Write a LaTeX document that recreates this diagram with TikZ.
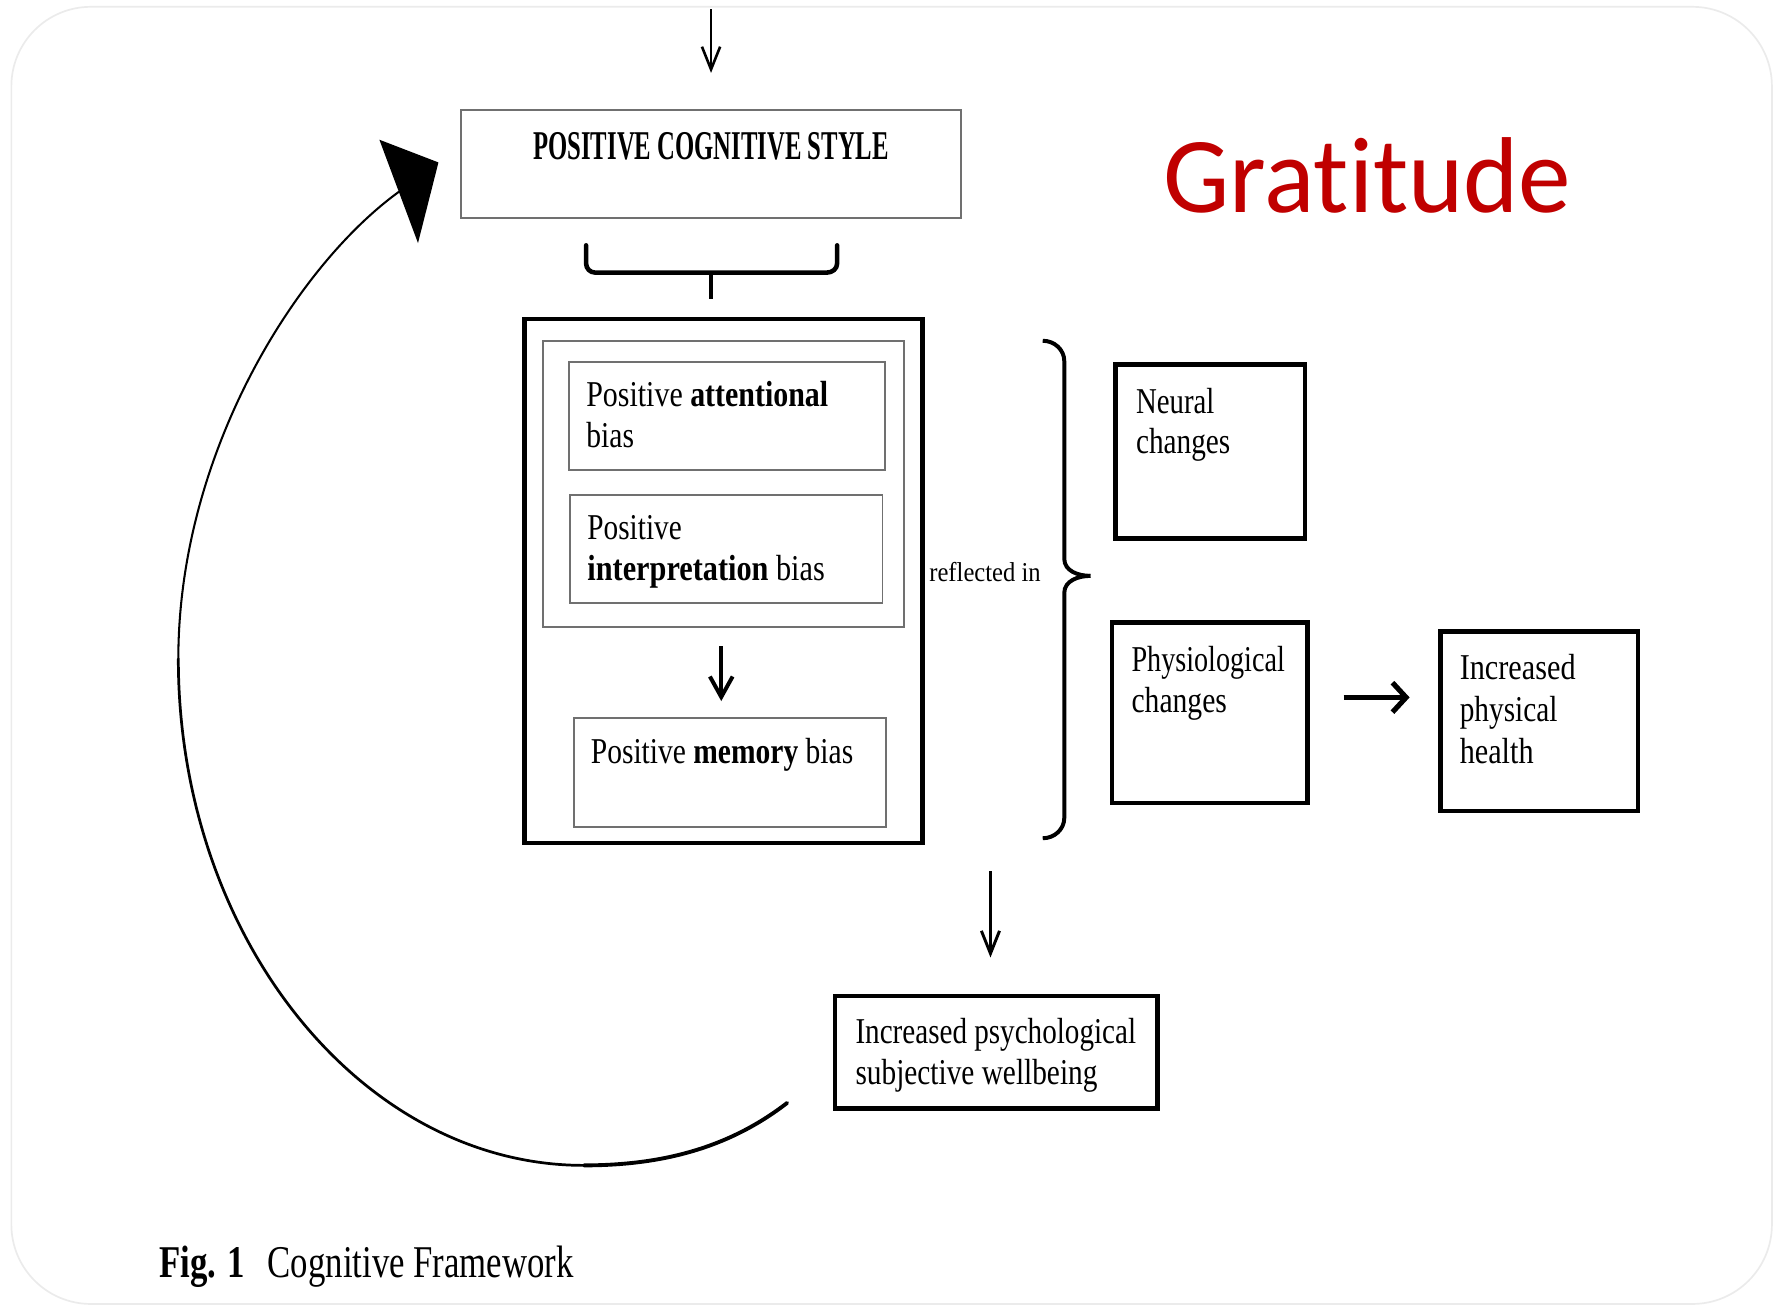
\documentclass[tikz,border=0pt]{standalone}
\usepackage{fontspec}
\setmainfont{Liberation Serif}
\newfontfamily\gratfont[RawFeature={-liga;-dlig;-clig;-calt}]{Carlito}
\usetikzlibrary{arrows.meta,fit}
\definecolor{gratred}{HTML}{C00000}
\definecolor{thingray}{HTML}{707070}
\newcommand\sqz[2]{\resizebox{#1pt}{\height}{#2}}
\begin{document}
\begin{tikzpicture}[x=1pt,y=-1pt,
  thinbox/.style={draw=thingray, line width=1.6pt, inner sep=0pt},
  thickbox/.style={draw=black, line width=4pt, inner sep=0pt},
  txt/.style={anchor=base west, inner sep=0pt, font=\fontsize{32}{38}\selectfont},
  smalltxt/.style={anchor=base west, inner sep=0pt, font=\fontsize{24}{28}\selectfont},
]
\useasboundingbox (0,0) rectangle (1568,1154);
% faint frame
\draw[black!8, line width=1.5pt, rounded corners=70pt] (10,6) rectangle (1560,1148);

% boxes
\node[thinbox, fit={(406,97) (846,192)}] (pcs) {};
\node[thickbox, fit={(462,281) (812,742)}] (big) {};
\node[thinbox, fit={(478,300) (796,552)}] (grp) {};
\node[thinbox, fit={(501,319) (779,414)}] (att) {};
\node[thinbox, fit={(502,436) (777,531)}] (intp) {};
\node[thinbox, fit={(505,632) (780,728)}] (mem) {};
\node[thickbox, fit={(982,321) (1149,474)}] (neur) {};
\node[thickbox, fit={(979,548) (1151,707)}] (phys) {};
\node[thickbox, fit={(1268,556) (1442,714)}] (hlth) {};
\node[thickbox, fit={(735,877) (1019,976)}] (well) {};

% texts
\node[anchor=base, inner sep=0pt, font=\fontsize{36}{40}\selectfont\bfseries] (tpcs) at (626,140) {\sqz{313}{POSITIVE COGNITIVE STYLE}};
\node[txt] (ta1) at (516,358) {\sqz{213}{Positive \textbf{attentional}}};
\node[txt] (ta2) at (516,394) {\sqz{42}{bias}};
\node[txt] (tb1) at (517,475) {\sqz{83}{Positive}};
\node[txt] (tb2) at (517,511) {\sqz{209}{\textbf{interpretation} bias}};
\node[txt] (tc1) at (520,672) {\sqz{231}{Positive \textbf{memory} bias}};
\node[smalltxt] (trefl) at (818,512) {\sqz{98}{reflected in}};
\node[txt] (tn1) at (1000,364) {\sqz{69}{Neural}};
\node[txt] (tn2) at (1000,399) {\sqz{83}{changes}};
\node[txt] (tp1) at (996,591) {\sqz{135}{Physiological}};
\node[txt] (tp2) at (996,627) {\sqz{84}{changes}};
\node[txt] (th1) at (1285,598) {\sqz{102}{Increased}};
\node[txt] (th2) at (1285,635) {\sqz{86}{physical}};
\node[txt] (th3) at (1285,672) {\sqz{65}{health}};
\node[txt] (tw1) at (753,919) {\sqz{247}{Increased psychological}};
\node[txt] (tw2) at (753,955) {\sqz{213}{subjective wellbeing}};
\node[anchor=base west, inner sep=0pt, text=gratred, font=\gratfont\fontsize{95}{100}\selectfont] (grat) at (1024,187) {\sqz{359}{Grat\kern0pt it\kern0pt ude}};
\node[anchor=base west, inner sep=0pt, font=\fontsize{40}{44}\selectfont] (cap) at (140,1125) {\sqz{365}{\textbf{Fig. 1}\hspace{26pt}Cognitive Framework}};

% top arrow
\coordinate (topin) at (626,8);
\draw[line width=2.3pt, -{Straight Barb[length=20pt,width=16pt]}, shorten >=32pt] (topin) -- (pcs.north);

% bracket under PCS
\draw[line width=4pt, line cap=round] (516,216) -- (516,232) to[out=-90,in=180] (524,240) -- (728,240) to[out=0,in=-90] (737,232) -- (737,216);
\coordinate (brmid) at (626,240);
\draw[line width=3pt] (brmid) -- (626,263);

% arrow group -> memory
\coordinate (ax) at (635,0);
\draw[line width=3.5pt, -{Straight Barb[length=18pt,width=20pt]}, shorten <=16pt, shorten >=14pt] (grp.south -| ax) -- (mem.north -| ax);

% right brace
\draw[line width=3.5pt] (918,300) to[out=0,in=90] (937,318) -- (937,492) to[out=-90,in=180] (960,507);
\draw[line width=3.5pt] (960,507) to[out=180,in=90] (937,522) -- (937,720) to[out=-90,in=0] (918,738);

% physio -> health
\coordinate (py) at (0,614);
\draw[line width=4.5pt, -{Straight Barb[length=12pt,width=26pt]}, shorten <=30pt, shorten >=25pt] (phys.east |- py) -- (hlth.west |- py);

% arrow to wellbeing
\coordinate (wtop) at (872,767);
\draw[line width=2.6pt, -{Straight Barb[length=20pt,width=16pt]}, shorten >=32pt] (wtop) -- (well.north -| wtop);

% feedback curve
\coordinate (cs) at (693,971);
\coordinate (cb) at (514,1026);
\coordinate (cl) at (157,580);
\coordinate (ce) at (351,169);
\draw[line width=3.4pt, line cap=round] (cs) .. controls (640,1012) and (580,1026) .. (cb);
\draw[line width=2.4pt, line cap=round] (cb) .. controls (318,1026) and (157,825) .. (cl);
\draw[line width=1.8pt, line cap=round] (cl) .. controls (157,400) and (260,235) .. (ce);
\fill (334,123) -- (386,143) -- (368,214) -- cycle;
\end{tikzpicture}
\end{document}
